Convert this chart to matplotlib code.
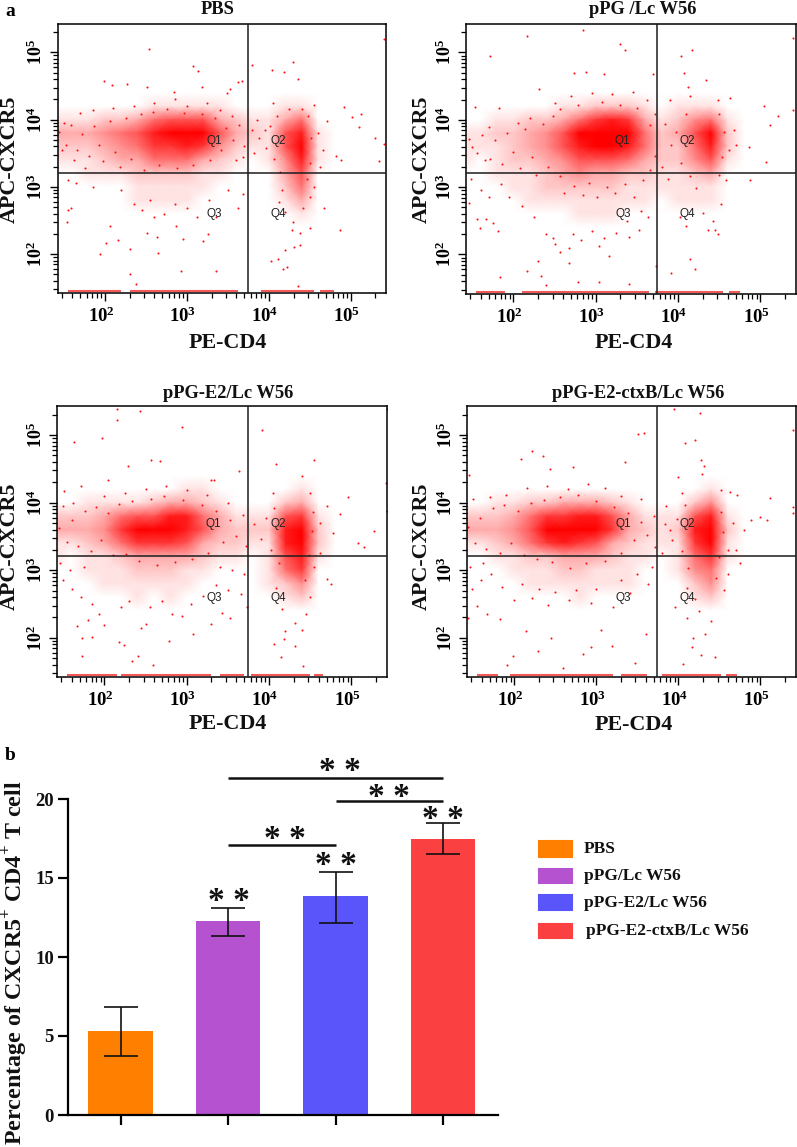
import matplotlib
matplotlib.use("Agg")
import matplotlib.pyplot as plt
from matplotlib.patches import FancyBboxPatch
from matplotlib.ticker import LogLocator, NullFormatter, FixedLocator
from matplotlib.transforms import ScaledTranslation
import matplotlib.colors as mcolors
import numpy as np

plt.rcParams['font.family'] = ['Liberation Serif', 'DejaVu Serif']
plt.rcParams['mathtext.fontset'] = 'custom'
plt.rcParams['mathtext.rm'] = 'Liberation Serif:bold'
plt.rcParams['mathtext.bf'] = 'Liberation Serif:bold'

W, H = 797, 1147

panel_titles = ["PBS", "pPG /Lc W56", "pPG-E2/Lc W56", "pPG-E2-ctxB/Lc W56"]
grid_x = [1.4, 1.6, 1.8, 2.0, 2.2, 2.4, 2.6, 2.8, 3.0, 3.2, 3.4, 3.6, 3.8, 4.0, 4.2, 4.4, 4.6, 4.8]
grid_y = [4.6, 4.4, 4.2, 4.0, 3.8, 3.6, 3.4, 3.2, 3.0, 2.8, 2.6, 2.4]
gate_x = 3.74
gate_y = 3.21

# how dense the red looks, 0 (white) to 9 (solid)
pbs_density = [
    [0, 0, 0, 0, 0, 0, 0, 0, 0, 0, 0, 0, 0, 0, 0, 0, 0, 0],
    [0, 0, 0, 0, 0, 0, 0, 0, 0, 0, 0, 0, 0, 0, 0, 0, 0, 0],
    [0, 0, 0, 0, 0, 0, 1, 1, 1, 1, 1, 0, 0, 0, 1, 1, 0, 0],
    [1, 1, 1, 2, 2, 3, 5, 6, 6, 6, 3, 2, 1, 1, 3, 5, 0, 0],
    [3, 3, 3, 4, 5, 6, 8, 9, 9, 9, 6, 3, 2, 1, 6, 8, 1, 0],
    [2, 2, 2, 3, 4, 5, 7, 7, 8, 7, 4, 2, 1, 1, 6, 9, 1, 0],
    [1, 1, 1, 2, 3, 3, 5, 5, 5, 3, 2, 1, 0, 1, 4, 8, 1, 0],
    [0, 0, 1, 1, 1, 2, 2, 2, 2, 1, 1, 0, 0, 0, 3, 6, 0, 0],
    [0, 0, 0, 0, 0, 1, 1, 1, 1, 1, 0, 0, 0, 0, 2, 5, 0, 0],
    [0, 0, 0, 0, 0, 1, 1, 1, 1, 0, 0, 0, 0, 0, 1, 3, 0, 0],
    [0, 0, 0, 0, 0, 0, 0, 0, 0, 0, 0, 0, 0, 0, 0, 1, 0, 0],
    [0, 0, 0, 0, 0, 0, 0, 0, 0, 0, 0, 0, 0, 0, 0, 0, 0, 0],
]
ppg_density = [
    [0, 0, 0, 0, 0, 0, 0, 0, 0, 0, 0, 0, 0, 0, 0, 0, 0, 0],
    [0, 0, 0, 0, 0, 0, 0, 0, 0, 0, 0, 0, 0, 0, 0, 0, 0, 0],
    [0, 0, 0, 0, 0, 0, 1, 1, 2, 2, 2, 1, 0, 1, 1, 1, 0, 0],
    [0, 0, 1, 1, 2, 2, 3, 5, 7, 8, 7, 3, 1, 2, 4, 5, 1, 0],
    [1, 1, 2, 2, 3, 4, 6, 9, 9, 9, 9, 5, 2, 3, 6, 9, 2, 0],
    [1, 1, 1, 2, 3, 4, 6, 8, 9, 9, 8, 5, 2, 2, 5, 8, 2, 0],
    [1, 0, 1, 2, 2, 3, 4, 6, 6, 6, 5, 3, 2, 2, 4, 6, 1, 0],
    [0, 0, 1, 1, 1, 2, 3, 4, 3, 3, 2, 2, 1, 1, 2, 3, 0, 0],
    [0, 0, 0, 1, 1, 2, 2, 2, 2, 2, 1, 1, 1, 1, 1, 1, 0, 0],
    [0, 0, 0, 0, 1, 1, 1, 1, 1, 1, 1, 1, 0, 1, 1, 1, 0, 0],
    [0, 0, 0, 0, 0, 0, 0, 1, 1, 1, 0, 0, 0, 0, 0, 0, 0, 0],
    [0, 0, 0, 0, 0, 0, 0, 0, 0, 0, 0, 0, 0, 0, 0, 0, 0, 0],
]
e2_density = [
    [0, 0, 0, 0, 0, 0, 0, 0, 0, 0, 0, 0, 0, 0, 0, 0, 0, 0],
    [0, 0, 0, 0, 0, 0, 0, 0, 0, 0, 0, 0, 0, 0, 0, 0, 0, 0],
    [0, 0, 0, 0, 0, 0, 0, 0, 1, 1, 0, 0, 0, 0, 0, 1, 0, 0],
    [0, 0, 1, 1, 1, 1, 2, 3, 3, 2, 1, 0, 0, 0, 2, 3, 0, 0],
    [2, 2, 2, 3, 5, 6, 6, 8, 8, 5, 3, 1, 1, 1, 6, 7, 1, 0],
    [3, 3, 3, 4, 7, 9, 9, 9, 8, 6, 3, 2, 2, 2, 8, 9, 2, 0],
    [1, 1, 2, 3, 5, 7, 7, 7, 6, 3, 2, 2, 1, 1, 8, 9, 2, 0],
    [1, 0, 1, 1, 2, 3, 3, 3, 3, 2, 1, 1, 0, 1, 6, 8, 1, 0],
    [0, 0, 1, 1, 1, 2, 2, 2, 1, 1, 0, 0, 0, 1, 5, 7, 0, 0],
    [0, 0, 0, 1, 1, 1, 1, 1, 1, 0, 0, 0, 0, 1, 2, 4, 0, 0],
    [0, 0, 0, 0, 0, 1, 0, 1, 0, 0, 0, 0, 0, 0, 1, 2, 0, 0],
    [0, 0, 0, 0, 0, 0, 0, 0, 0, 0, 0, 0, 0, 0, 0, 0, 0, 0],
]
ctxb_density = [
    [0, 0, 0, 0, 0, 0, 0, 0, 0, 0, 0, 0, 0, 0, 0, 0, 0, 0],
    [0, 0, 0, 0, 0, 0, 0, 0, 0, 0, 0, 0, 0, 0, 0, 0, 0, 0],
    [0, 0, 0, 0, 0, 0, 0, 0, 0, 0, 0, 0, 0, 0, 0, 1, 0, 0],
    [0, 0, 1, 1, 2, 2, 3, 3, 3, 2, 1, 0, 0, 0, 2, 4, 0, 0],
    [2, 2, 2, 3, 5, 7, 7, 8, 8, 6, 3, 1, 1, 1, 6, 8, 1, 0],
    [3, 3, 3, 4, 6, 9, 9, 9, 9, 7, 3, 2, 1, 2, 8, 9, 2, 0],
    [1, 1, 2, 3, 5, 7, 8, 7, 6, 3, 2, 1, 1, 1, 7, 9, 1, 0],
    [0, 0, 1, 1, 2, 2, 3, 3, 3, 2, 1, 1, 0, 1, 5, 7, 1, 0],
    [0, 0, 0, 1, 1, 1, 2, 2, 1, 1, 1, 0, 0, 1, 4, 5, 0, 0],
    [0, 0, 0, 0, 1, 1, 1, 1, 1, 1, 1, 0, 0, 0, 2, 4, 0, 0],
    [0, 0, 0, 0, 0, 0, 0, 1, 0, 0, 0, 0, 0, 0, 1, 2, 0, 0],
    [0, 0, 0, 0, 0, 0, 0, 0, 0, 0, 0, 0, 0, 0, 0, 0, 0, 0],
]

# single events that can be told apart
pbs_dots = [
    (2.54, 5.05), (3.07, 4.80), (3.13, 4.72), (1.99, 4.57), (2.27, 4.53), (2.09, 4.52), (2.51, 4.49), (2.84, 4.41),
    (3.18, 4.48), (3.67, 4.58), (3.62, 4.56), (3.53, 4.46), (3.49, 4.40), (3.80, 4.81), (4.04, 4.74), (4.30, 4.85),
    (4.18, 4.71), (4.35, 4.60), (5.41, 5.20), (5.12, 4.09), (5.02, 4.04), (4.92, 4.19), (5.10, 3.89), (5.29, 3.73),
    (5.41, 3.64), (5.35, 3.38), (4.88, 3.40), (4.82, 3.46), (4.71, 3.98), (4.66, 3.55), (4.60, 3.80), (1.53, 2.48),
    (1.59, 2.68), (1.55, 2.66), (1.94, 2.00), (2.01, 2.16), (2.06, 2.41), (2.16, 2.21), (2.30, 2.07), (2.31, 1.70),
    (2.38, 1.55), (2.93, 1.74), (3.36, 1.75), (2.51, 2.31), (2.63, 2.26), (2.87, 2.41), (2.95, 2.23), (2.65, 2.01),
    (3.20, 2.20), (3.26, 2.30), (3.36, 2.55), (2.55, 2.80), (4.03, 1.90), (4.11, 1.92), (4.20, 2.06), (4.22, 1.80),
    (4.31, 2.10), (4.38, 2.14), (4.17, 1.78), (4.36, 1.52), (4.28, 2.35), (4.38, 2.31), (4.50, 2.38), (4.67, 2.68),
    (4.87, 2.35), (1.55, 3.10), (1.65, 3.05), (1.85, 3.00), (2.20, 2.95), (2.35, 2.75), (2.45, 2.65), (2.60, 2.55),
    (2.72, 2.60), (2.85, 2.75), (3.00, 2.68), (3.12, 2.55), (3.27, 2.80), (3.50, 2.95), (3.62, 2.68), (3.68, 2.90),
    (1.50, 3.95), (1.70, 4.10), (1.85, 4.15), (2.10, 4.18), (2.35, 4.20), (2.60, 4.25), (2.85, 4.30), (3.00, 4.20),
    (3.25, 4.25), (3.40, 4.15), (3.55, 4.05), (3.85, 4.00), (3.95, 3.85), (4.05, 4.25), (4.55, 4.22), (4.62, 3.30),
    (4.55, 3.00), (4.50, 2.85), (1.48, 3.55), (1.62, 3.40), (1.75, 3.28), (3.60, 3.40), (3.70, 3.60), (3.82, 3.50),
    (1.44, 3.82), (1.52, 3.62), (1.58, 3.92), (1.66, 3.55), (1.72, 3.78), (1.80, 3.46), (1.86, 3.90), (1.93, 3.62),
    (1.98, 3.38), (2.06, 3.98), (2.12, 3.52), (2.18, 3.30), (2.26, 4.02), (2.32, 3.42), (2.44, 4.08), (2.47, 3.25),
    (2.58, 4.12), (2.66, 3.32), (2.76, 4.16), (2.88, 3.28), (2.96, 4.10), (3.08, 3.32), (3.18, 4.08), (3.28, 3.40),
    (3.34, 4.02), (3.42, 3.55), (3.48, 3.88), (3.56, 3.70), (3.63, 3.92), (3.68, 3.45), (3.80, 3.84), (3.88, 3.72),
    (3.96, 3.58), (4.02, 3.90), (4.06, 3.42), (4.10, 4.06), (4.14, 3.22), (4.48, 4.05), (4.52, 3.72), (4.50, 3.35),
    (4.47, 3.12), (4.16, 2.96), (4.12, 2.78), (4.20, 2.62), (4.42, 2.68), (4.30, 2.48), (4.24, 4.16), (4.40, 4.16),
]
ppg_dots = [
    (2.16, 5.24), (2.85, 5.34), (1.71, 4.94), (3.29, 5.12), (3.35, 5.03), (4.04, 4.94), (4.17, 5.03), (4.07, 4.69),
    (5.40, 5.21), (2.73, 4.69), (2.88, 4.71), (3.10, 4.68), (3.70, 4.68), (2.31, 4.45), (4.34, 4.59), (4.12, 4.48),
    (1.53, 4.19), (1.82, 4.17), (5.05, 4.21), (5.21, 4.06), (5.12, 3.92), (5.40, 4.14), (4.86, 3.59), (5.07, 3.37),
    (4.87, 3.10), (4.71, 3.63), (4.63, 4.33), (1.40, 4.04), (1.46, 2.76), (1.59, 2.40), (1.56, 2.52), (1.67, 2.52),
    (1.75, 2.46), (1.81, 2.35), (1.84, 1.67), (2.16, 1.76), (2.33, 1.68), (2.39, 1.55), (2.30, 1.91), (2.78, 1.59),
    (3.04, 1.59), (3.41, 1.56), (2.67, 1.87), (3.92, 1.73), (4.14, 1.93), (4.21, 1.79), (3.73, 1.83), (4.49, 2.30),
    (4.37, 2.37), (4.45, 2.37), (4.10, 2.42), (3.16, 1.98), (2.56, 2.03), (2.67, 2.09), (2.48, 2.24), (2.82, 2.21),
    (3.04, 2.12), (3.53, 2.37), (3.41, 2.26), (3.63, 2.56), (2.40, 2.30), (2.50, 2.15), (2.72, 2.30), (2.95, 2.35),
    (3.10, 2.25), (3.25, 2.32), (3.38, 2.50), (3.55, 2.65), (2.25, 2.55), (2.10, 2.72), (1.95, 2.85), (1.70, 2.85),
    (1.60, 2.95), (1.48, 3.12), (1.85, 3.05), (4.02, 2.55), (4.30, 2.62), (4.42, 2.50), (4.52, 2.75), (4.58, 3.10),
    (4.62, 3.55), (4.68, 3.85), (2.50, 4.25), (2.70, 4.35), (2.95, 4.40), (3.20, 4.38), (3.45, 4.42), (3.62, 4.30),
    (3.90, 4.30), (4.15, 4.35), (4.48, 4.30), (2.20, 4.02), (2.05, 3.95), (1.70, 3.90), (1.50, 3.60), (1.65, 3.40),
    (1.46, 3.72), (1.56, 3.50), (1.62, 3.78), (1.72, 3.42), (1.78, 3.70), (1.86, 3.34), (1.92, 3.80), (2.00, 3.52),
    (2.08, 3.28), (2.14, 3.86), (2.22, 3.44), (2.28, 3.18), (2.36, 3.94), (2.42, 3.30), (2.48, 4.05), (2.56, 3.16),
    (2.62, 2.92), (2.74, 3.02), (2.84, 2.88), (2.92, 3.06), (3.02, 2.86), (3.14, 3.00), (3.24, 2.92), (3.36, 3.04),
    (3.46, 2.86), (3.58, 3.10), (3.66, 3.26), (3.72, 3.46), (3.66, 3.92), (3.72, 4.08), (3.84, 3.94), (3.92, 3.62),
    (3.98, 3.82), (4.04, 3.36), (4.10, 4.08), (4.14, 3.16), (4.50, 4.08), (4.56, 3.82), (4.54, 3.44), (4.50, 3.18),
    (2.56, 4.16), (2.78, 4.22), (3.08, 4.26), (3.30, 4.22), (3.50, 4.18), (3.80, 3.30), (3.88, 3.12), (4.22, 2.98),
]
e2_dots = [
    (2.15, 5.38), (2.43, 5.35), (2.15, 5.22), (1.63, 4.90), (1.97, 4.96), (2.94, 5.12), (3.92, 5.08), (5.43, 5.39),
    (2.56, 4.63), (2.67, 4.61), (2.29, 4.54), (2.04, 4.34), (1.72, 4.24), (1.51, 4.17), (3.64, 4.47), (4.55, 4.63),
    (4.09, 4.57), (4.40, 4.39), (3.29, 4.33), (3.33, 4.33), (5.42, 4.29), (4.96, 4.09), (5.43, 3.88), (4.86, 3.83),
    (5.27, 3.58), (5.08, 3.41), (5.16, 3.34), (4.70, 3.95), (4.62, 3.70), (4.78, 3.55), (1.73, 1.73), (1.73, 2.00),
    (1.85, 2.01), (1.67, 2.18), (1.80, 2.26), (1.94, 2.35), (2.00, 2.19), (2.24, 1.90), (2.18, 1.94), (2.33, 1.65),
    (2.41, 1.73), (2.59, 1.60), (2.78, 1.96), (3.08, 2.05), (2.94, 2.33), (2.82, 2.35), (2.51, 2.21), (2.45, 2.14),
    (3.29, 2.21), (3.43, 2.36), (3.53, 2.29), (3.73, 2.46), (4.06, 1.91), (4.14, 1.71), (4.41, 1.59), (4.31, 1.88),
    (4.20, 2.10), (4.32, 2.22), (4.18, 1.98), (4.75, 2.80), (4.71, 2.87), (4.50, 2.60), (4.45, 2.35), (4.40, 2.12),
    (1.50, 2.85), (1.60, 2.72), (1.72, 2.60), (1.85, 2.50), (2.20, 2.45), (2.30, 2.55), (2.55, 2.45), (2.70, 2.55),
    (3.05, 2.50), (3.20, 2.62), (3.35, 2.78), (3.50, 2.70), (3.66, 2.65), (3.70, 2.95), (3.55, 3.00), (3.40, 3.05),
    (2.00, 4.10), (2.25, 4.15), (2.50, 4.20), (2.75, 4.25), (3.00, 4.18), (3.25, 4.12), (3.50, 4.00), (4.05, 4.15),
    (4.50, 4.15), (4.62, 3.25), (4.55, 3.05), (1.50, 3.95), (1.62, 4.00), (1.46, 3.10), (1.58, 3.00), (1.75, 3.05),
    (1.45, 3.62), (1.54, 3.42), (1.60, 3.74), (1.68, 3.36), (1.76, 3.88), (1.84, 3.28), (1.90, 3.94), (1.96, 3.44),
    (2.04, 3.84), (2.10, 3.22), (2.18, 3.98), (2.26, 3.24), (2.34, 4.02), (2.42, 3.14), (2.56, 4.06), (2.64, 3.08),
    (2.72, 4.10), (2.86, 3.12), (2.96, 4.04), (3.06, 3.16), (3.18, 3.96), (3.26, 3.26), (3.36, 3.88), (3.44, 3.42),
    (3.52, 3.74), (3.60, 3.50), (3.68, 3.82), (3.72, 3.36), (3.82, 3.68), (3.90, 3.46), (3.96, 3.78), (4.02, 3.30),
    (4.06, 3.92), (4.12, 3.10), (4.08, 2.74), (4.16, 2.42), (4.44, 2.86), (4.48, 3.22), (4.52, 3.58), (4.54, 3.86),
]
ctxb_dots = [
    (3.95, 5.39), (4.26, 5.33), (4.20, 4.93), (4.08, 4.88), (3.51, 5.01), (3.58, 5.03), (5.40, 5.07), (2.21, 4.76),
    (2.35, 4.69), (2.08, 4.65), (3.35, 4.60), (4.27, 4.63), (4.31, 4.54), (4.29, 4.42), (1.45, 4.41), (2.71, 4.52),
    (2.43, 4.50), (3.99, 4.38), (5.12, 4.07), (4.63, 4.16), (4.71, 4.11), (5.00, 3.79), (5.40, 3.93), (5.40, 3.85),
    (4.88, 3.75), (4.67, 3.70), (5.08, 3.75), (4.80, 3.60), (1.99, 1.73), (1.91, 1.60), (2.29, 1.81), (2.45, 1.99),
    (2.59, 1.56), (2.84, 1.76), (2.94, 1.86), (3.19, 1.88), (3.06, 2.12), (3.61, 2.05), (3.47, 1.62), (4.06, 1.61),
    (4.16, 1.86), (4.27, 1.74), (4.45, 1.71), (4.33, 2.05), (4.18, 2.00), (1.67, 2.35), (1.43, 2.30), (1.55, 2.47),
    (1.82, 2.28), (2.00, 2.56), (2.14, 2.10), (2.22, 2.59), (2.41, 2.49), (2.67, 2.56), (2.94, 2.51), (3.20, 2.46),
    (3.41, 2.66), (3.63, 2.80), (3.96, 2.46), (4.10, 2.30), (4.25, 2.40), (4.40, 2.25), (4.55, 2.70), (4.60, 2.95),
    (1.48, 2.72), (1.60, 2.85), (1.72, 2.95), (1.85, 2.75), (2.10, 2.80), (2.30, 2.72), (2.50, 2.68), (2.75, 2.70),
    (3.00, 2.72), (3.30, 2.85), (3.50, 2.95), (3.68, 3.05), (1.50, 4.05), (1.70, 4.08), (1.90, 4.12), (2.15, 4.22),
    (2.40, 4.25), (2.65, 4.20), (2.90, 4.28), (3.10, 4.22), (3.30, 4.10), (3.55, 4.05), (3.85, 3.95), (4.05, 4.15),
    (4.52, 4.18), (4.60, 3.30), (1.46, 3.05), (1.62, 3.10), (4.70, 3.30), (4.75, 3.10), (3.80, 3.25), (3.90, 3.60),
    (1.44, 3.64), (1.52, 3.40), (1.58, 3.78), (1.66, 3.32), (1.74, 3.92), (1.82, 3.26), (1.88, 3.96), (1.96, 3.40),
    (2.04, 3.88), (2.12, 3.22), (2.20, 4.00), (2.28, 3.16), (2.36, 4.04), (2.46, 3.12), (2.56, 4.08), (2.68, 3.04),
    (2.78, 4.12), (2.88, 3.10), (3.00, 4.02), (3.10, 3.14), (3.22, 3.94), (3.30, 3.26), (3.38, 3.84), (3.46, 3.44),
    (3.54, 3.72), (3.62, 3.52), (3.70, 3.80), (3.72, 3.34), (3.84, 3.68), (3.92, 3.44), (3.98, 3.76), (4.04, 3.28),
    (4.08, 3.96), (4.12, 3.04), (4.10, 2.74), (4.20, 2.58), (4.46, 2.88), (4.50, 3.20), (4.54, 3.56), (4.52, 3.86),
]

# stretches of the floor row, where events pile up on the axis
pbs_floor = [(1.55, 2.20), (2.30, 3.62), (3.90, 4.55), (4.62, 4.80)]
ppg_floor = [(1.55, 1.90), (2.10, 3.65), (3.72, 4.55), (4.62, 4.75)]
e2_floor = [(1.55, 2.15), (2.20, 3.30), (3.40, 3.70), (3.78, 4.50), (4.55, 4.65)]
ctxb_floor = [(1.55, 1.80), (1.95, 3.20), (3.30, 3.62), (3.80, 4.52), (4.58, 4.72)]

densities = [pbs_density, ppg_density, e2_density, ctxb_density]
dots = [pbs_dots, ppg_dots, e2_dots, ctxb_dots]
floors = [pbs_floor, ppg_floor, e2_floor, ctxb_floor]

# ........bar chart........
groups = ["PBS", "pPG/Lc W56", "pPG-E2/Lc W56", "pPG-E2-ctxB/Lc W56"]
bar_values = [5.3, 12.25, 13.85, 17.5]
err_low = [3.75, 11.3, 12.15, 16.55]
err_high = [6.85, 13.1, 15.4, 18.5]
bar_colors = ["#FF8000", "#B452D0", "#5A55FA", "#FA4040"]
bar_yticks = [0, 5, 10, 15, 20]
# (from bar, to bar, height)
sig_lines = [(1, 3, 21.33), (2.0, 3, 19.87), (1, 2.0, 17.09)]

# pixel boxes: left, top, right, bottom
panel_boxes = [(57.5, 23.5, 386, 293), (465.7, 23.5, 795.7, 293.5), (56.7, 406, 386.7, 677), (466.7, 406, 795.7, 677)]
title_pos = [(218, 9), (643, 9.5), (228, 393.5), (638, 393.5)]
ylabel_pos = [(10, 159), (422, 159), (10, 546), (422, 546)]
xlabel_pos = [(228, 343), (634, 343), (228, 724), (634, 725)]

red_map = mcolors.LinearSegmentedColormap.from_list("dens", ["#ffffff", "#ff0000"])


def add_box(fig, box):
    l, t, r, b = box
    return fig.add_axes([l / W, 1 - b / H, (r - l) / W, (b - t) / H])


def put_text(fig, x, y, s, **kw):
    fig.text(x / W, 1 - y / H, s, ha=kw.pop('ha', 'center'), va=kw.pop('va', 'center'),
             fontweight=kw.pop('fontweight', 'bold'), **kw)


def flow_panel(ax, density, pts, floor):
    X, Y = np.meshgrid(10.0 ** np.array(grid_x), 10.0 ** np.array(grid_y))
    ax.set_xscale('log')
    ax.set_yscale('log')
    ax.pcolormesh(X, Y, np.array(density), shading='gouraud', cmap=red_map, vmin=0, vmax=9, zorder=1)
    px = [10 ** p[0] for p in pts]
    py = [10 ** p[1] for p in pts]
    ax.scatter(px, py, s=2.2, color='#ff1010', linewidths=0, zorder=2)
    for a, b in floor:
        ax.plot([10 ** a, 10 ** b], [10 ** 1.445, 10 ** 1.445], color='#f25a5a', lw=1.5,
                solid_capstyle='butt', zorder=2)
    ax.axvline(10 ** gate_x, color='#1c1c1c', lw=1.1, zorder=3)
    ax.axhline(10 ** gate_y, color='#1c1c1c', lw=1.1, zorder=3)
    ax.set_xlim(10 ** 1.42, 10 ** 5.43)
    ax.set_ylim(10 ** 1.42, 10 ** 5.43)
    ax.spines['top'].set_linewidth(1.1)
    ax.spines['right'].set_linewidth(1.1)
    ax.spines['left'].set_linewidth(1.1)
    ax.spines['bottom'].set_linewidth(1.1)
    for axis in [ax.xaxis, ax.yaxis]:
        axis.set_major_locator(FixedLocator([1e2, 1e3, 1e4, 1e5]))
        axis.set_minor_locator(LogLocator(base=10, subs=range(2, 10), numticks=12))
        axis.set_minor_formatter(NullFormatter())
    ax.set_xticklabels([r"$\mathbf{10^{%d}}$" % i for i in [2, 3, 4, 5]], fontsize=13.5)
    ax.set_yticklabels([r"$\mathbf{10^{%d}}$" % i for i in [2, 3, 4, 5]], fontsize=13,
                       rotation=90, va='center')
    ax.tick_params(which='major', length=6, width=1.0, pad=4)
    ax.tick_params(which='minor', length=3.5, width=0.9)
    ax.tick_params(axis='y', which='major', pad=2)
    nudge = ScaledTranslation(-4 / 100, 0, fig.dpi_scale_trans)
    for lab in ax.get_xticklabels():
        lab.set_transform(lab.get_transform() + nudge)
    for name, (x, y) in zip(["Q1", "Q2", "Q3", "Q4"], [(0.476, 0.564), (0.671, 0.564), (0.476, 0.293), (0.671, 0.293)]):
        ax.text(x, y, name, transform=ax.transAxes, ha='center', va='center', fontsize=8.5,
                family='Liberation Sans', color='#222222', zorder=4)


fig = plt.figure(figsize=(W / 100, H / 100), dpi=100)

for i in range(4):
    ax = add_box(fig, panel_boxes[i])
    flow_panel(ax, densities[i], dots[i], floors[i])
    put_text(fig, title_pos[i][0], title_pos[i][1], panel_titles[i], fontsize=13.3, color='#111111')
    put_text(fig, ylabel_pos[i][0], ylabel_pos[i][1], "APC-CXCR5", fontsize=15.8, rotation=90, color='#111111')
    put_text(fig, xlabel_pos[i][0], xlabel_pos[i][1], "PE-CD4", fontsize=15.8, color='#111111')

put_text(fig, 10, 12, "a", fontsize=14)
put_text(fig, 10, 755, "b", fontsize=14)

ax = add_box(fig, (67.7, 799, 498, 1115))
pos = np.arange(len(bar_values))
low = [v - l for v, l in zip(bar_values, err_low)]
high = [h - v for v, h in zip(bar_values, err_high)]
ax.bar(pos, bar_values, width=0.6, color=bar_colors)
ax.errorbar(pos, bar_values, yerr=[low, high], fmt='none', ecolor='#111111', elinewidth=1.2,
            capsize=11.9, capthick=1.2, clip_on=False)
ax.set_xlim(-0.491, 3.51)
ax.set_ylim(0, 20)
ax.set_xticks(pos)
ax.set_xticklabels([])
ax.set_yticks(bar_yticks)
ax.set_yticklabels([str(v) for v in bar_yticks], fontsize=13.5, fontweight='bold', color='#111111')
ax.spines['top'].set_visible(False)
ax.spines['right'].set_visible(False)
ax.spines['left'].set_linewidth(1.6)
ax.spines['bottom'].set_linewidth(1.6)
ax.tick_params(axis='x', length=7, width=1.6)
ax.tick_params(axis='y', length=7, width=1.6, pad=3)

for a, b, h in sig_lines:
    ax.plot([a, b], [h, h], color='#111111', lw=1.8, clip_on=False, solid_capstyle='butt')

# stars as text, the same two signs above every bar and bracket
star_pos = [(340, 766), (389, 791), (285, 833), (229, 896), (336, 859), (443, 813)]
for x, y in star_pos:
    put_text(fig, x, y + 6, "* *", fontsize=24, family='Liberation Serif', color='#111111')

put_text(fig, 15, 963, r"Percentage of CXCR5$^{+}$ CD4$^{+}$ T cell", fontsize=17.3, rotation=90, color='#111111')

# legend boxes do not sit on an even pitch in the figure
legend_rows = [(840.7, 857.7, 584), (868, 884, 584), (894.7, 911, 584), (923, 939, 586)]
for g, c, (t, b, tx) in zip(groups, bar_colors, legend_rows):
    fig.add_artist(FancyBboxPatch((538.5 / W, 1 - (b - 0.7) / H), 33.5 / W, (b - t - 1.4) / H,
                                  boxstyle="square,pad=0", facecolor=c, edgecolor=c,
                                  lw=1.5, transform=fig.transFigure))
    put_text(fig, tx, (t + b) / 2, g, ha='left', fontsize=12.5, color='#111111')

plt.savefig("out.png", dpi=100)
